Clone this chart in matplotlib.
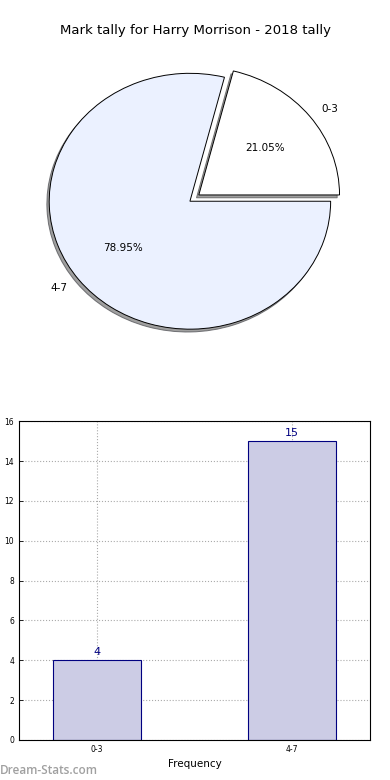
import numpy as np
import matplotlib
matplotlib.use("Agg")
import matplotlib.pyplot as plt

# data
categories = ['0-3', '4-7']
counts = [4, 15]
pie_colors = ['#FFFFFF', '#EBF1FF']
explode = [0.08, 0.0]

title = 'Mark tally for Harry Morrison - 2018 tally'

fig = plt.figure(figsize=(3.9, 7.8), dpi=100)

# pie chart (stretched, like the old matplotlib output)
ax1 = fig.add_axes([0.036, 0.537, 0.902, 0.410])
wedges, texts, autotexts = ax1.pie(counts, labels=categories, colors=pie_colors,
                                   explode=explode, autopct='%1.2f%%',
                                   shadow={'ox': -0.012, 'oy': -0.016,
                                           'facecolor': '#777777', 'alpha': 0.7},
                                   startangle=0, labeldistance=1.1, pctdistance=0.6,
                                   wedgeprops={'edgecolor': 'black', 'linewidth': 0.7},
                                   textprops={'fontsize': 7.5})
ax1.set_aspect('auto')
ax1.set_xlim(-1.25, 1.25)
ax1.set_ylim(-1.25, 1.25)
fig.text(0.5, 0.961, title, ha='center', va='center', fontsize=9.5)

# bar chart
ax2 = fig.add_axes([0.0487, 0.0513, 0.9, 0.4087])
x = np.arange(len(categories))
bars = ax2.bar(x, counts, width=0.45, color='#CCCCE5', edgecolor='#000080',
               linewidth=0.8, zorder=2)
for xi, c in zip(x, counts):
    ax2.text(xi, c + 0.15, '%d' % c, ha='center', va='bottom', color='#000080',
             fontsize=8)
ax2.set_xlim(-0.4, 1.4)
ax2.set_ylim(0, 16)
ax2.set_xticks(x)
ax2.set_xticklabels(categories)
ax2.set_yticks(range(0, 17, 2))
ax2.tick_params(labelsize=5.5, direction='in', length=3, width=0.6)
ax2.grid(True, linestyle=':', color='#aaaaaa', linewidth=0.8, zorder=0)
ax2.set_axisbelow(True)
ax2.set_xlabel('Frequency', fontsize=7.5, labelpad=4)
ax2.set_ylabel('Students in Mark', fontsize=7.5)
ax2.yaxis.set_label_coords(-0.049, 0.5)
for s in ax2.spines.values():
    s.set_linewidth(0.8)

fig.text(0.0, 0.004, 'Dream-Stats.com', ha='left', va='bottom', color='#a0a0a0',
         fontsize=8.5, family='Open Sans', fontweight='semibold')

fig.savefig('out.png', dpi=100)
